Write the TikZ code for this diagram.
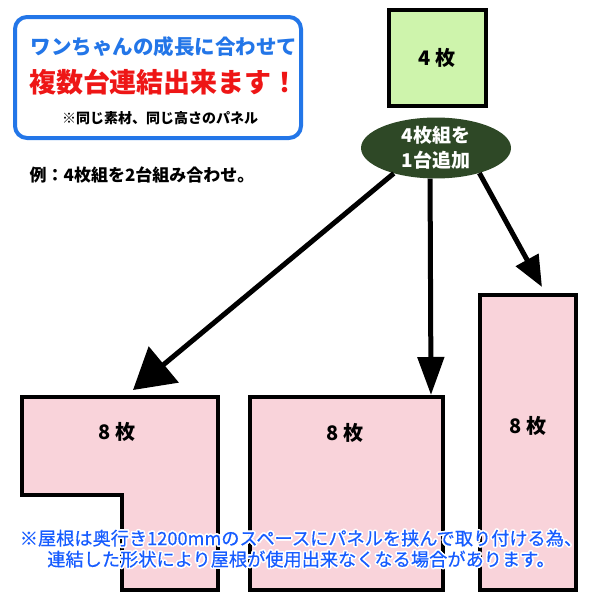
\documentclass[tikz,border=0pt]{standalone}
\usepackage{fontspec}
\setmainfont{Noto Sans CJK JP}
\newfontfamily\notefont{Noto Sans CJK JP}[FakeBold=0.5]
\usepackage[copies]{contour}
\contourlength{1.6pt}
\contournumber{16}
\usetikzlibrary{arrows.meta,shapes.geometric}

\definecolor{frameblue}{RGB}{35,118,232}
\definecolor{headred}{RGB}{238,22,22}
\definecolor{leafgreen}{RGB}{206,244,172}
\definecolor{darkgreen}{RGB}{46,72,38}
\definecolor{panelpink}{RGB}{249,211,218}
\definecolor{noteblue}{RGB}{22,92,255}

\begin{document}
\begin{tikzpicture}[x=1pt, y=-1pt,
	txt/.style={inner sep=0pt, font=\bfseries\fontsize{#1}{#1}\selectfont},
	panel/.style={draw, line width=4pt, fill=panelpink, inner sep=0pt},
	count/.style={txt=20},
	arrow/.style={line width=5pt},
	]
	\useasboundingbox (0,0) rectangle (600,600);

	% message box
	\node[draw=frameblue, line width=4pt, rounded corners=12pt, fill=white,
		minimum width=286pt, minimum height=121pt] (msg) at (158,77.5) {};
	\node[txt=20.5, text=frameblue] (head)  at (164,47)  {ワンちゃんの成長に合わせて};
	\node[txt=27, text=headred]     (catch) at (164,82)  {複数台連結出来ます！};
	\node[txt=14]                   (same)  at (160,118) {※同じ素材、同じ高さのパネル};
	\node[txt=17]                   (ex)    at (142,175) {例：4枚組を2台組み合わせ。};

	% unit and add bubble
	\node[draw, line width=4pt, fill=leafgreen, minimum width=97pt,
		minimum height=96pt, inner sep=0pt] (unit) at (437.5,58) {};
	\node[count] at (437,58) {4\hspace{5pt}枚};
	\node[ellipse, fill=darkgreen, minimum width=150pt, minimum height=60pt,
		inner sep=0pt, text=white, align=center,
		font=\bfseries\fontsize{19}{25}\selectfont] (add) at (436,148) {4枚組を\\1台追加};

	% combinations
	\draw[panel] (22,397) -- (218,397) -- (218,590) -- (122,590)
		-- (122,495) -- (22,495) -- cycle;
	\node[panel, minimum width=193pt, minimum height=193pt] (square) at (346.5,493.5) {};
	\node[panel, minimum width=96pt, minimum height=295pt] (long) at (528,442.5) {};
	\node[count] (lcount) at (117,432) {8\hspace{5pt}枚};
	\node[count] (scount) at (345,433) {8\hspace{5pt}枚};
	\node[count] (tcount) at (528,426) {8\hspace{5pt}枚};

	\coordinate (ltip) at (133,390);
	\coordinate (stip) at (square.north -| 431,0);
	\coordinate (ttip) at (542,287);
	\draw[arrow, -{Triangle[length=40pt,width=46pt]}] (add.-149) -- (ltip);
	\draw[arrow, -{Triangle[length=38pt,width=26pt]}] (add.-101) -- (stip);
	\draw[arrow, -{Triangle[length=31pt,width=25pt]}] (add.-30) -- (ttip);

	\node[inner sep=0pt, text=noteblue, align=center,
		font=\notefont\fontsize{18.2}{21}\selectfont] (note) at (301,549.5)
		{\contour{white}{※屋根は奥行き1200mmのスペースにパネルを挟んで取り付ける為、}\\
		 \contour{white}{連結した形状により屋根が使用出来なくなる場合があります。}};
\end{tikzpicture}
\end{document}
